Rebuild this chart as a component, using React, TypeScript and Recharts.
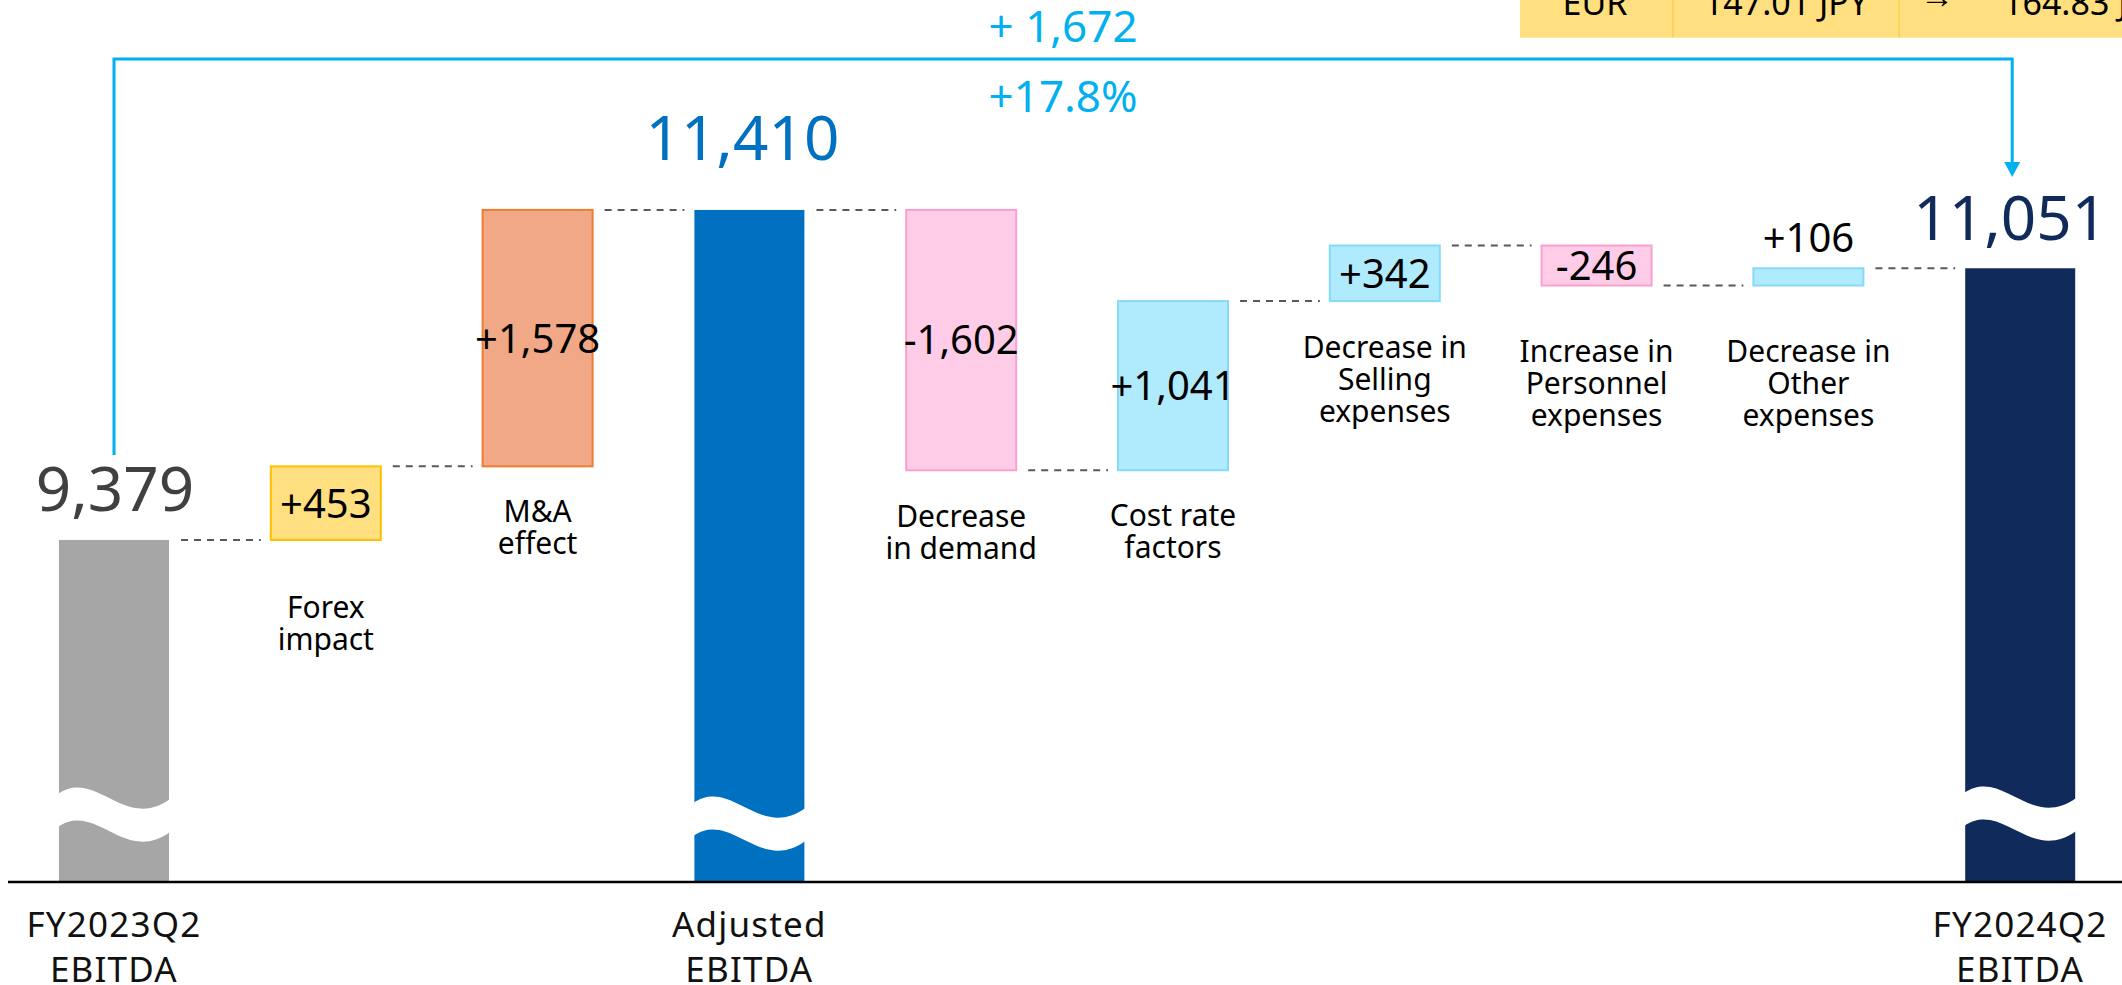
import { BarChart, Bar, XAxis, YAxis } from 'recharts';

// waterfall: FY2023Q2 EBITDA -> FY2024Q2 EBITDA
const categories = [
  'FY2023Q2 EBITDA',
  'Forex impact',
  'M&A effect',
  'Adjusted EBITDA',
  'Decrease in demand',
  'Cost rate factors',
  'Decrease in Selling expenses',
  'Increase in Personnel expenses',
  'Decrease in Other expenses',
  'FY2024Q2 EBITDA',
];
const categoryLines = [
  ['FY2023Q2', 'EBITDA'],
  ['Forex', 'impact'],
  ['M&A', 'effect'],
  ['Adjusted', 'EBITDA'],
  ['Decrease', 'in demand'],
  ['Cost rate', 'factors'],
  ['Decrease in', 'Selling', 'expenses'],
  ['Increase in', 'Personnel', 'expenses'],
  ['Decrease in', 'Other', 'expenses'],
  ['FY2024Q2', 'EBITDA'],
];
const kinds = ['total', 'delta', 'delta', 'total', 'delta', 'delta', 'delta', 'delta', 'delta', 'total'];
const values = [9379, 453, 1578, 11410, -1602, 1041, 342, -246, 106, 11051];
const valueLabels = ['9,379', '+453', '+1,578', '11,410', '-1,602', '+1,041', '+342', '-246', '+106', '11,051'];
const totalChange = '+ 1,672';
const totalChangePct = '+17.8%';
const fxRow = ['EUR', '147.01 JPY', '→', '164.83 JPY'];

// broken axis: bars start well above zero
const Y_MIN = 7274;
const Y_MAX = 12702;

const rows = (() => {
  let run = 0;
  return categories.map((name, i) => {
    const v = values[i];
    if (kinds[i] === 'total') {
      run = v;
      return { name, low: Y_MIN, high: v, rising: true };
    }
    const start = run;
    run = start + v;
    return { name, low: Math.min(start, run), high: Math.max(start, run), rising: v >= 0 };
  });
})();

const FONT = '"Noto Sans", Roboto, sans-serif';
const CHART_W = 2126;
const CHART_H = 985;
const MARGIN = { top: 0, right: 0, left: 8, bottom: 0 };
const STEP = (CHART_W - MARGIN.left - MARGIN.right) / categories.length;

const FILLS = ['#a6a6a6', '#ffdf80', '#f1a886', '#0070c0', '#ffcce8', '#b0eafd', '#b0eafd', '#ffcce8', '#b0eafd', '#102a5c'];
const STROKES = ['none', '#ffc000', '#ed7d31', 'none', '#fb9fcf', '#86d9f8', '#86d9f8', '#fb9fcf', '#86d9f8', 'none'];
const TOTAL_LABEL = {
  0: { color: '#404040', gap: 29, dx: 1 },
  3: { color: '#0070c0', gap: 50, dx: -7 },
  9: { color: '#102a5c', gap: 28, dx: -10 },
} as Record<number, { color: string; gap: number; dx: number }>;
const WAVE_OFFSET = { 0: 88, 3: 79, 9: 89 } as Record<number, number>;
const NAME_GAP = [0, 78, 56, 0, 57, 56, 57, 77, 77, 0];
const CYAN = '#00b0f0';

function Wave({ x, w, y0 }: { x: number; w: number; y0: number }) {
  const x0 = x - 1;
  const x1 = x + w + 1;
  const t = 33;
  const d =
    `M${x0},${y0} C${x0 + 0.35 * w},${y0 - 26} ${x0 + 0.6 * w},${y0 + 38} ${x1},${y0 + 5} ` +
    `L${x1},${y0 + 5 + t} C${x0 + 0.6 * w},${y0 + 38 + t} ${x0 + 0.35 * w},${y0 - 26 + t} ${x0},${y0 + t} Z`;
  return <path d={d} fill="#fff" />;
}

function WaterfallShape(props: any) {
  const { x, y, width, height } = props;
  const i = typeof props.index === 'number' ? props.index : categories.indexOf(props.payload?.name);
  const isTotal = kinds[i] === 'total';
  const cx = x + width / 2;
  const bottom = y + height;
  const endY = rows[i].rising ? y : bottom;

  const parts: any[] = [];
  parts.push(
    <rect key="r" x={x} y={y} width={width} height={height} fill={FILLS[i]}
      stroke={STROKES[i]} strokeWidth={isTotal ? 0 : 2} />
  );

  if (isTotal) {
    parts.push(<Wave key="w" x={x} w={width} y0={bottom - WAVE_OFFSET[i]} />);
    const lab = TOTAL_LABEL[i];
    parts.push(
      <text key="v" x={cx + lab.dx} y={y - lab.gap} textAnchor="middle" fontSize={62}
        fontFamily={FONT} fill={lab.color}>{valueLabels[i]}</text>
    );
  } else {
    const inside = height > 30;
    const ty = inside ? (y + bottom) / 2 + 14.4 : y - 16;
    parts.push(
      <text key="v" x={cx} y={ty} textAnchor="middle" fontSize={40} fontFamily={FONT} fill="#000">
        {valueLabels[i]}
      </text>
    );
    parts.push(
      <text key="n" x={cx} y={bottom + NAME_GAP[i]} textAnchor="middle" fontSize={30} fontFamily={FONT} fill="#000">
        {categoryLines[i].map((l, k) => (
          <tspan key={k} x={cx} dy={k === 0 ? 0 : 32}>{l}</tspan>
        ))}
      </text>
    );
  }

  // dashed connector to the next bar
  if (i < categories.length - 1) {
    parts.push(
      <line key="c" x1={x + width + 12} x2={x + STEP - 10} y1={endY} y2={endY}
        stroke="#595959" strokeWidth={2} strokeDasharray="7 6" />
    );
  }

  // overall change bracket, drawn with the last bar
  if (i === categories.length - 1) {
    const leftX = cx - (categories.length - 1) * STEP;
    const rightX = cx - 8;
    const topY = 59;
    const midX = (leftX + rightX) / 2;
    parts.push(
      <g key="b">
        <polyline points={`${leftX},455 ${leftX},${topY} ${rightX},${topY} ${rightX},163`}
          fill="none" stroke={CYAN} strokeWidth={3} />
        <polygon points={`${rightX - 8},162 ${rightX + 8},162 ${rightX},177`} fill={CYAN} />
        <text x={midX} y={42} textAnchor="middle" fontSize={44} fontFamily={FONT} fill={CYAN}>{totalChange}</text>
        <text x={midX} y={112} textAnchor="middle" fontSize={44} fontFamily={FONT} fill={CYAN}>{totalChangePct}</text>
      </g>
    );
  }

  return <g>{parts}</g>;
}

function AxisTick(props: any) {
  const { x, y, payload } = props;
  const i = payload.index;
  if (kinds[i] !== 'total') return <g />;
  return (
    <text x={x} y={y + 55} textAnchor="middle" fontSize={35} letterSpacing={1.2} fontFamily={FONT} fill="#111">
      {categoryLines[i].map((l, k) => (
        <tspan key={k} x={x} dy={k === 0 ? 0 : 45}>{l}</tspan>
      ))}
    </text>
  );
}

export default function App() {
  return (
    <div style={{ position: 'absolute', left: 0, top: 0, width: 2122, height: 985, overflow: 'hidden', background: '#fff' }}>
      <BarChart width={CHART_W} height={CHART_H} data={rows} margin={MARGIN} barSize={110}>
        <XAxis
          dataKey="name"
          height={103}
          interval={0}
          tickLine={false}
          tickSize={0}
          tickMargin={0}
          axisLine={{ stroke: '#000', strokeWidth: 2.5 }}
          tick={AxisTick}
        />
        <YAxis hide width={0} domain={[Y_MIN, Y_MAX]} allowDataOverflow />
        <Bar dataKey={(d: any) => [d.low, d.high]} shape={WaterfallShape} isAnimationActive={false} />
      </BarChart>

      {/* exchange-rate strip, cut off by the top edge */}
      <svg width={2122} height={40} style={{ position: 'absolute', left: 0, top: 0 }}>
        <rect x={1520} y={-5} width={620} height={42.7} fill="#ffdf80" />
        <line x1={1673} x2={1673} y1={-5} y2={37.7} stroke="#f5c63c" strokeWidth={1} />
        <line x1={1899} x2={1899} y1={-5} y2={37.7} stroke="#f5c63c" strokeWidth={1} />
        <text x={1595} y={15} textAnchor="middle" fontSize={34} fontFamily={FONT} fill="#000">{fxRow[0]}</text>
        <text x={1786} y={15} textAnchor="middle" fontSize={34} fontFamily={FONT} fill="#000">{fxRow[1]}</text>
        <text x={1937} y={8} textAnchor="middle" fontSize={34} fontFamily={FONT} fill="#000">{fxRow[2]}</text>
        <text x={2003} y={15} textAnchor="start" fontSize={34} fontFamily={FONT} fill="#000">{fxRow[3]}</text>
      </svg>
    </div>
  );
}
